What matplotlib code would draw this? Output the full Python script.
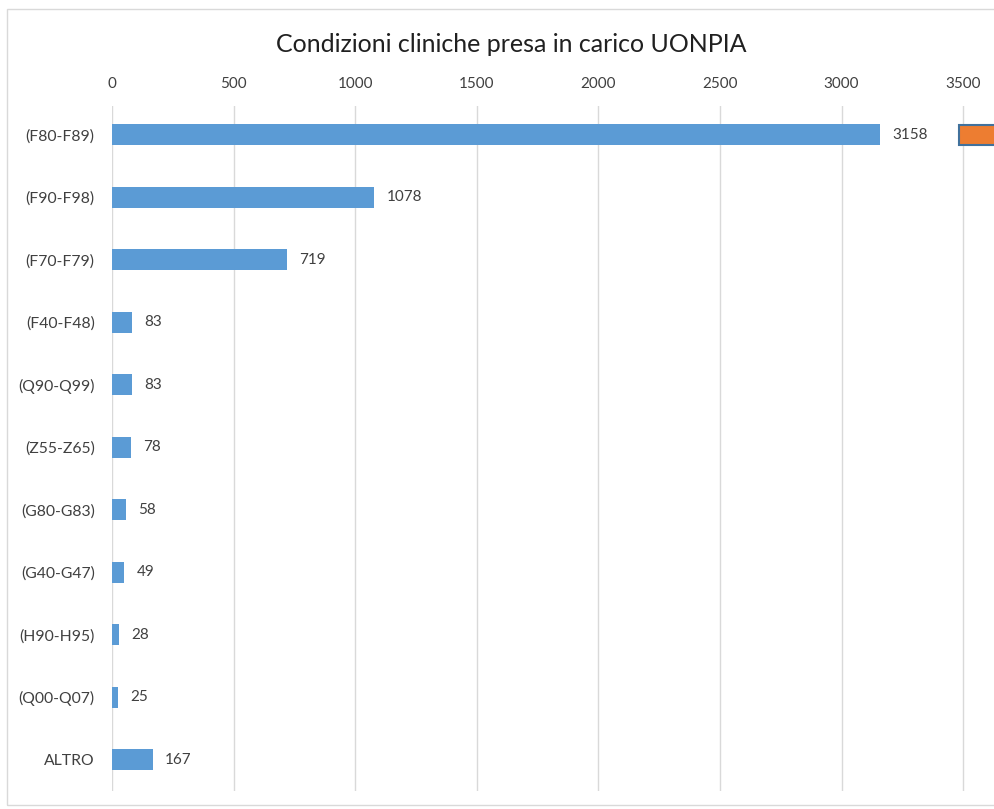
import matplotlib.pyplot as plt
from matplotlib.patches import Rectangle

# data
categories = ['(F80-F89)', '(F90-F98)', '(F70-F79)', '(F40-F48)', '(Q90-Q99)',
              '(Z55-Z65)', '(G80-G83)', '(G40-G47)', '(H90-H95)', '(Q00-Q07)', 'ALTRO']
values = [3158, 1078, 719, 83, 83, 78, 58, 49, 28, 25, 167]
x_ticks = [0, 500, 1000, 1500, 2000, 2500, 3000, 3500]

plt.rcParams['font.family'] = ['Lato', 'DejaVu Sans']
text_color = '#404040'
bar_color = '#5B9BD5'

fig = plt.figure(figsize=(9.94, 8.09), dpi=100)
ax = fig.add_axes([112 / 994, 18 / 809, 875.5 / 994, 685 / 809])

pos = list(range(len(categories)))
ax.barh(pos, values, height=0.34, color=bar_color, zorder=3)
for p, v in zip(pos, values):
    ax.annotate(str(v), (v, p), xytext=(9, 0), textcoords='offset points',
                va='center', ha='left', fontsize=11, color=text_color)

ax.set_yticks(pos)
ax.set_yticklabels(categories, fontsize=11.3, color=text_color)
ax.set_ylim(10.5, -0.46)
ax.set_xlim(0, 3600)
ax.set_xticks(x_ticks)
ax.xaxis.tick_top()
ax.tick_params(axis='x', labelsize=11, labelcolor=text_color, length=0, pad=11)
ax.tick_params(axis='y', length=0, pad=12.5)
ax.grid(axis='x', color='#D9D9D9', linewidth=1, zorder=0)
for s in ax.spines.values():
    s.set_visible(False)

fig.suptitle('Condizioni cliniche presa in carico UONPIA', x=511 / 994, y=1 - 44 / 809,
             va='center', fontsize=18, color='#202020')

# outer chart frame and the cut-off legend key on the right
fig.patches.append(Rectangle((7 / 994, 4 / 809), 1.0, 796 / 809, transform=fig.transFigure,
                             fill=False, edgecolor='#D9D9D9', linewidth=1))
fig.patches.append(Rectangle((959 / 994, 1 - 145 / 809), 0.05, 20 / 809, transform=fig.transFigure,
                             facecolor='#ED7D31', edgecolor='#41719C', linewidth=1.5))

fig.savefig('out.png', dpi=100)
